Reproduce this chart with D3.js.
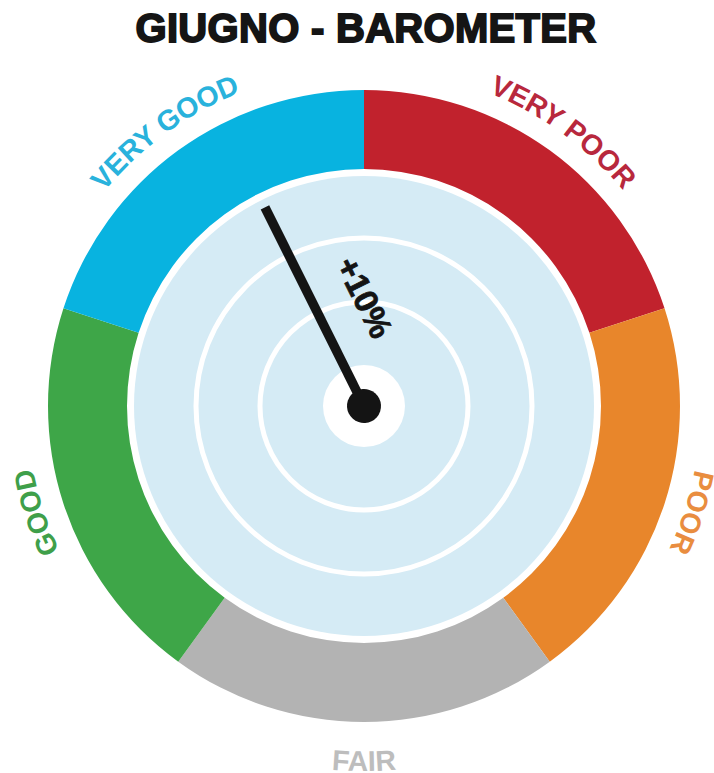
<!DOCTYPE html>
<html>
<head>
<meta charset="utf-8">
<script src="https://cdn.jsdelivr.net/npm/d3@7"></script>
<style>
  body { margin: 0; background: #fff; }
  svg { display: block; }
</style>
</head>
<body>
<svg id="chart" width="714" height="773"></svg>
<script>
const title = "GIUGNO - BAROMETER";
const categories = ["VERY POOR", "POOR", "FAIR", "GOOD", "VERY GOOD"];
const segmentColors = ["#c1222d", "#e8862b", "#b3b3b3", "#3ea648", "#08b3e0"];
const labelColors = ["#b8283d", "#e98d3f", "#bdbdbd", "#3f9f4a", "#29b2dc"];
const needleValue = 4.632;   // position on the category scale (0..5)
const needleLabel = "+10%";

const svg = d3.select("#chart");
const cx = 364, cy = 406;
const outerR = 316, innerR = 237, dialR = 230;

const angle = d3.scaleLinear().domain([0, categories.length]).range([0, 2 * Math.PI]);
const toDeg = r => r * 180 / Math.PI;

svg.append("text")
  .attr("x", 366).attr("y", 42)
  .attr("text-anchor", "middle")
  .style("font-family", "'Liberation Sans', Arial, sans-serif")
  .style("font-weight", "bold")
  .style("font-size", "40px")
  .style("letter-spacing", "0.3px")
  .style("fill", "#151515")
  .style("stroke", "#151515")
  .style("stroke-width", "1.8px")
  .text(title);

const g = svg.append("g").attr("transform", `translate(${cx},${cy})`);

const arc = d3.arc().innerRadius(innerR).outerRadius(outerR);

g.selectAll(".segment").data(categories).enter().append("path")
  .attr("class", "segment")
  .attr("d", (d, i) => arc({startAngle: angle(i), endAngle: angle(i + 1)}))
  .attr("fill", (d, i) => segmentColors[i]);

// label paths around the ring (clockwise, bottom one flipped so it reads upright)
const defs = svg.append("defs");
categories.forEach((c, i) => {
  const mid = angle(i + 0.5);
  const flip = Math.cos(mid) < -0.9;
  const r = flip ? 365 : 337;
  const span = 1.0;
  const a0 = flip ? mid + span : mid - span;
  const a1 = flip ? mid - span : mid + span;
  const p = d3.path();
  p.moveTo(r * Math.sin(a0), -r * Math.cos(a0));
  p.arc(0, 0, r, a0 - Math.PI / 2, a1 - Math.PI / 2, flip);
  defs.append("path").attr("id", "lbl" + i).attr("d", p.toString());
});

g.selectAll(".label").data(categories).enter().append("text")
  .attr("class", "label")
  .style("font-family", "'Liberation Sans', Arial, sans-serif")
  .style("font-weight", "bold")
  .style("font-size", "28.5px")
  .attr("fill", (d, i) => labelColors[i])
  .append("textPath")
  .attr("href", (d, i) => "#lbl" + i)
  .attr("startOffset", "50%")
  .attr("text-anchor", "middle")
  .text(d => d);

// dial
g.append("circle").attr("r", dialR).attr("fill", "#d5ebf5");
[104, 168].forEach(r => {
  g.append("circle").attr("r", r)
    .attr("fill", "none").attr("stroke", "#fff").attr("stroke-width", 5);
});
g.append("circle").attr("r", 41).attr("fill", "#fff");

// needle
const na = toDeg(angle(needleValue));
const ng = g.append("g").attr("transform", `rotate(${na})`);
ng.append("line")
  .attr("x1", 0).attr("y1", 0).attr("x2", 0).attr("y2", -222)
  .attr("stroke", "#141414").attr("stroke-width", 9.5);
ng.append("circle").attr("r", 17).attr("fill", "#141414");
ng.append("text")
  .attr("transform", "translate(49,-97) rotate(90)")
  .attr("text-anchor", "middle")
  .attr("dominant-baseline", "central")
  .style("font-family", "'Liberation Sans', Arial, sans-serif")
  .style("font-weight", "bold")
  .style("font-size", "33px")
  .style("fill", "#141414")
  .style("stroke", "#141414")
  .style("stroke-width", "0.8px")
  .text(needleLabel);
</script>
</body>
</html>
